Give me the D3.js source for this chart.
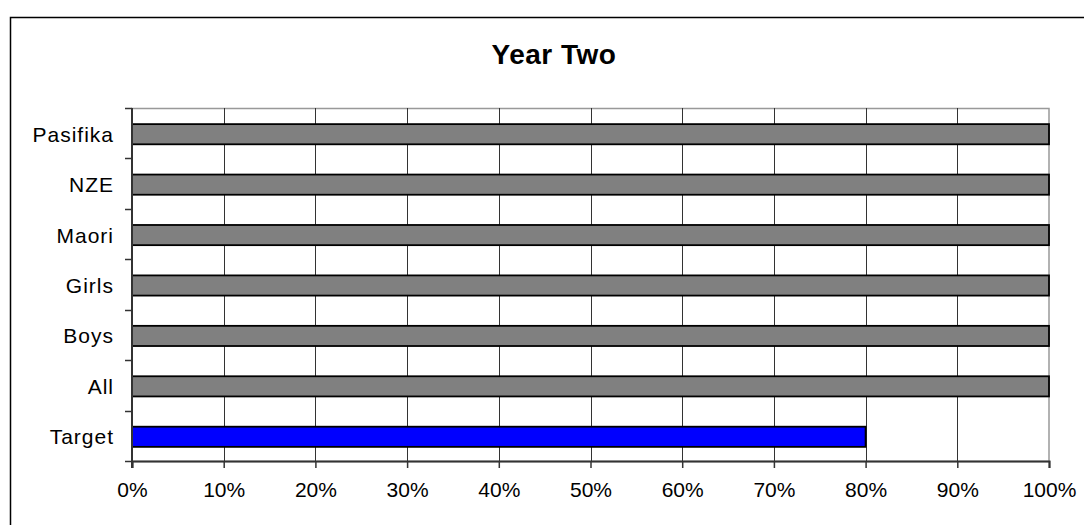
<!DOCTYPE html>
<html>
<head>
<meta charset="utf-8">
<script src="https://cdn.jsdelivr.net/npm/d3@7"></script>
<style>
  body { margin: 0; background: #fff; }
  text { font-family: "Liberation Sans", Arial, sans-serif; fill: #000; }
</style>
</head>
<body>
<div id="chart"></div>
<script>
var svgWidth = 1084;
var svgHeight = 525;

// data, top to bottom
var categories = ["Pasifika", "NZE", "Maori", "Girls", "Boys", "All", "Target"];
var values = [100, 100, 100, 100, 100, 100, 80];
var barColors = ["#808080", "#808080", "#808080", "#808080", "#808080", "#808080", "#0000ff"];
var xTicks = [0, 10, 20, 30, 40, 50, 60, 70, 80, 90, 100];

var margin = { top: 108, right: 35, bottom: 64, left: 132 };
var width = svgWidth - margin.left - margin.right;
var height = svgHeight - margin.top - margin.bottom;

var svg = d3.select("#chart")
  .append("svg")
  .attr("width", svgWidth)
  .attr("height", svgHeight);

// outer chart frame, runs off the right and bottom edge
svg.append("rect")
  .attr("x", 10.5)
  .attr("y", 17.5)
  .attr("width", 1200)
  .attr("height", 700)
  .attr("fill", "none")
  .attr("stroke", "#000")
  .attr("stroke-width", 1.5);

svg.append("text")
  .attr("x", 554)
  .attr("y", 64)
  .attr("text-anchor", "middle")
  .attr("font-size", "28px")
  .attr("font-weight", "bold")
  .attr("letter-spacing", "0.5px")
  .text("Year Two");

var chartGroup = svg.append("g")
  .attr("transform", `translate(${margin.left}, ${margin.top})`);

var xScale = d3.scaleLinear()
  .domain([0, 100])
  .range([0, width]);

var yScale = d3.scaleBand()
  .domain(categories)
  .range([0, height])
  .paddingInner(0.6)
  .paddingOuter(0.3);

// plot area border (top and right, grey)
chartGroup.append("rect")
  .attr("x", 0)
  .attr("y", 0.5)
  .attr("width", width)
  .attr("height", height)
  .attr("fill", "none")
  .attr("stroke", "#999")
  .attr("stroke-width", 1.5);

// vertical gridlines
chartGroup.selectAll(".grid")
  .data(xTicks.slice(1, -1))
  .enter()
  .append("line")
  .attr("x1", d => Math.round(xScale(d)) + 0.5)
  .attr("x2", d => Math.round(xScale(d)) + 0.5)
  .attr("y1", 0)
  .attr("y2", height)
  .attr("stroke", "#333")
  .attr("stroke-width", 1);

// bars
chartGroup.selectAll(".bar")
  .data(categories)
  .enter()
  .append("rect")
  .attr("x", 0)
  .attr("y", d => yScale(d) + 1)
  .attr("width", (d, i) => xScale(values[i]))
  .attr("height", yScale.bandwidth())
  .attr("fill", (d, i) => barColors[i])
  .attr("stroke", "#000")
  .attr("stroke-width", 1.8);

// x axis
var bottomAxis = d3.axisBottom(xScale)
  .tickValues(xTicks)
  .tickSize(7)
  .tickPadding(14)
  .tickFormat(d => d + "%");

var xAxis = chartGroup.append("g")
  .attr("transform", `translate(0, ${height})`)
  .call(bottomAxis);
xAxis.select(".domain").attr("stroke", "#333").attr("stroke-width", 2);
xAxis.selectAll(".tick line").attr("stroke", "#333").attr("stroke-width", 1.5);
xAxis.selectAll("text")
  .attr("font-size", "21px")
  .attr("font-family", "Liberation Sans, Arial, sans-serif")
  .attr("fill", "#000");

// y axis line and ticks at band boundaries
chartGroup.append("line")
  .attr("x1", 0).attr("x2", 0)
  .attr("y1", 0).attr("y2", height + 7)
  .attr("stroke", "#333")
  .attr("stroke-width", 2);

var boundaries = categories.map((d, i) => i).concat([categories.length]);
chartGroup.selectAll(".ytick")
  .data(boundaries)
  .enter()
  .append("line")
  .attr("x1", -7).attr("x2", 0)
  .attr("y1", d => Math.round(d * height / categories.length) + 0.5)
  .attr("y2", d => Math.round(d * height / categories.length) + 0.5)
  .attr("stroke", "#333")
  .attr("stroke-width", 1.5);

chartGroup.selectAll(".ylabel")
  .data(categories)
  .enter()
  .append("text")
  .attr("x", -18)
  .attr("y", d => yScale(d) + yScale.bandwidth() / 2 + 1)
  .attr("dy", "0.36em")
  .attr("text-anchor", "end")
  .attr("font-size", "21px")
  .attr("letter-spacing", "1px")
  .text(d => d);
</script>
</body>
</html>
